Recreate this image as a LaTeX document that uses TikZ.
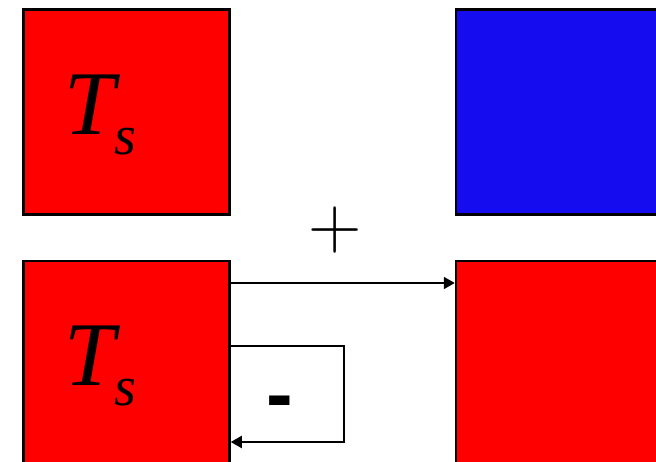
\documentclass[tikz,border=0pt]{standalone}
\usepackage{fontspec}
\setmainfont{Liberation Serif}
\newfontfamily\minusfont{Liberation Sans}
\newfontfamily\plusfont{Latin Modern Roman}
\usepackage{tikz}
\usetikzlibrary{arrows.meta}
\definecolor{tsred}{RGB}{255,0,0}
\definecolor{coldblue}{RGB}{21,12,240}
\newcommand{\bigT}{\fontsize{91}{91}\selectfont\itshape T}
\newcommand{\subS}{\fontsize{56}{56}\selectfont\itshape s}
\tikzset{
  sq/.style={draw=black, line width=2.5pt, minimum width=206pt, minimum height=205pt, inner sep=0pt},
  conn/.style={line width=2pt, -{Triangle[length=11pt,width=12pt]}},
  lbl/.style={anchor=base west, inner sep=0pt},
}

\begin{document}
\begin{tikzpicture}[x=1pt, y=-1pt]
    \useasboundingbox (0,0) rectangle (656,462);
    \clip (0,0) rectangle (656,462);
    % top row
    \node[sq, fill=tsred] (tsTop) at (126.5,112) {};
    \node[sq, fill=coldblue] (coldTop) at (559,112) {};
    \node[lbl] (tsTopT) at (64,135) {\bigT};
    \node[lbl] (tsTopS) at (114,155) {\subS};

    % bottom row
    \node[sq, fill=tsred, anchor=north] (tsBot) at (126.5,260) {};
    \node[sq, fill=tsred, anchor=north] (outBot) at (559,260) {};
    \node[lbl] (tsBotT) at (64,385) {\bigT};
    \node[lbl] (tsBotS) at (114,405) {\subS};

    \draw[conn] ([yshift=-23pt]tsBot.north east) -- ([yshift=-23pt]outBot.north west);
    \draw[conn, line cap=rect] ([yshift=-86pt]tsBot.north east) -- ++(113,0) |- ([yshift=-182pt]tsBot.north east);

    \node[anchor=base] (plus) at (335,249) {\plusfont\fontsize{74}{74}\selectfont +};
    \node[anchor=base] (minus) at (279.5,421) {\minusfont\bfseries\fontsize{80}{80}\selectfont -};
\end{tikzpicture}
\end{document}
